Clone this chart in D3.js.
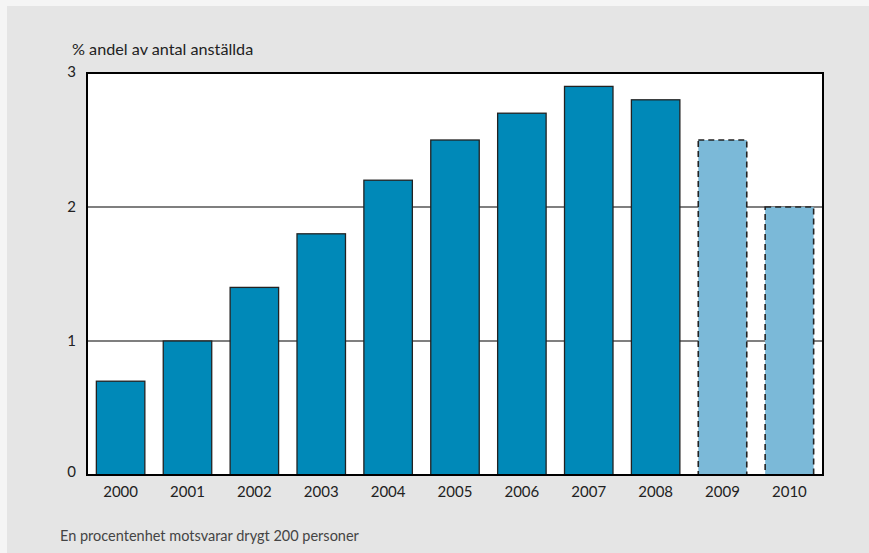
<!DOCTYPE html>
<html>
<head>
<meta charset="utf-8">
<script src="https://cdn.jsdelivr.net/npm/d3@7"></script>
<style>
  body { margin: 0; background: #f5f5f5; }
  svg text { font-family: Lato, "Open Sans", sans-serif; }
</style>
</head>
<body>
<svg id="chart" width="869" height="553"></svg>
<script>
var years = ['2000','2001','2002','2003','2004','2005','2006','2007','2008','2009','2010'];
var values = [0.7, 1.0, 1.4, 1.8, 2.2, 2.5, 2.7, 2.9, 2.8, 2.5, 2.0];
var forecast = ['2009','2010'];
var yTicks = [0, 1, 2, 3];

var margin = {top: 73, right: 46, bottom: 78, left: 87},
    width = 869 - margin.left - margin.right,
    height = 553 - margin.top - margin.bottom;

var svg = d3.select('#chart');

svg.append('rect')
  .attr('x', 7).attr('y', 6)
  .attr('width', 869 - 7).attr('height', 553 - 6)
  .attr('fill', '#e5e5e5');

var g = svg.append('g')
  .attr('transform', 'translate(' + margin.left + ',' + margin.top + ')');

var x = d3.scaleBand()
  .domain(years)
  .range([0, width])
  .paddingInner(0.275)
  .paddingOuter(0.14);

var y = d3.scaleLinear()
  .domain([0, 3])
  .range([height, 0]);

g.append('rect')
  .attr('width', width).attr('height', height)
  .attr('fill', '#fff');

// grid lines
g.selectAll('line.grid')
  .data(yTicks.filter(d => d > 0 && d < 3))
  .enter().append('line')
  .attr('class', 'grid')
  .attr('x1', 0).attr('x2', width)
  .attr('y1', d => y(d)).attr('y2', d => y(d))
  .attr('stroke', '#555').attr('stroke-width', 1.5);

g.selectAll('rect.bar')
  .data(years)
  .enter().append('rect')
  .attr('class', 'bar')
  .attr('x', d => x(d))
  .attr('width', x.bandwidth())
  .attr('y', (d, i) => y(values[i]))
  .attr('height', (d, i) => height - y(values[i]))
  .attr('fill', d => forecast.includes(d) ? '#7bb9d8' : '#0089b8')
  .attr('stroke', '#222')
  .attr('stroke-width', d => forecast.includes(d) ? 1.6 : 1.3)
  .attr('stroke-dasharray', d => forecast.includes(d) ? '6,4' : null);

// frame
g.append('rect')
  .attr('width', width).attr('height', height)
  .attr('fill', 'none')
  .attr('stroke', '#000').attr('stroke-width', 2);

var yAxis = d3.axisLeft(y).tickValues(yTicks).tickFormat(d3.format('d')).tickSize(0).tickPadding(11);
g.append('g')
  .call(yAxis)
  .call(s => s.select('.domain').remove())
  .selectAll('text')
  .attr('font-size', 15).attr('fill', '#222')
  .attr('dy', d => d === 3 ? '0.2em' : d === 0 ? '0.1em' : '0.32em');

var xAxis = d3.axisBottom(x).tickSize(0).tickPadding(11);
g.append('g')
  .attr('transform', 'translate(0,' + height + ')')
  .call(xAxis)
  .call(s => s.select('.domain').remove())
  .selectAll('text')
  .attr('font-size', 15).attr('fill', '#222');

svg.append('text')
  .attr('x', 72).attr('y', 55)
  .attr('font-size', 16.2).attr('fill', '#222')
  .text('% andel av antal anställda');

svg.append('text')
  .attr('x', 60).attr('y', 541)
  .attr('font-size', 14.5).attr('fill', '#444')
  .text('En procentenhet motsvarar drygt 200 personer');
</script>
</body>
</html>
